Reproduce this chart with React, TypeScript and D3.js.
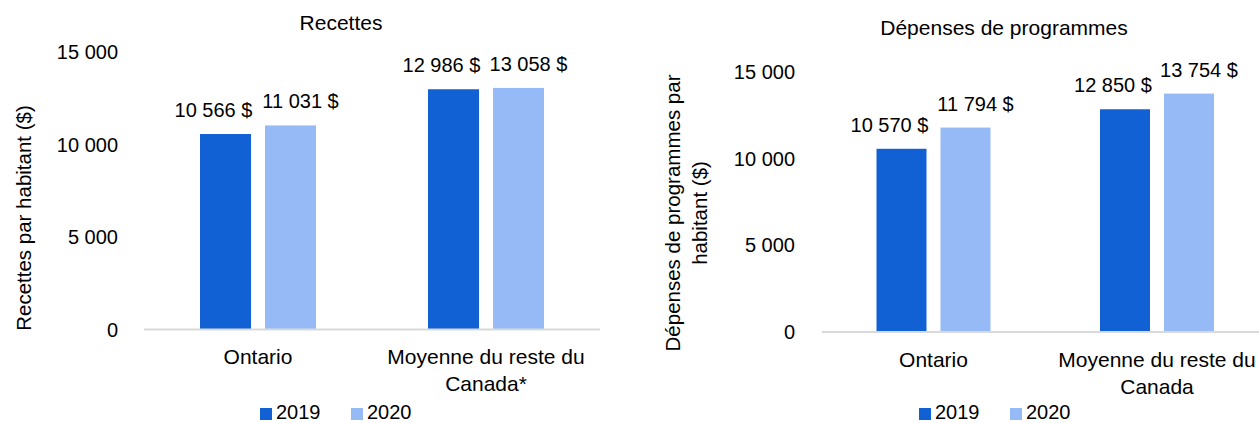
import React from "react";
import * as d3 from "d3";

const categoriesLeft = ["Ontario", "Moyenne du reste du|Canada*"];
const categoriesRight = ["Ontario", "Moyenne du reste du|Canada"];
const seriesNames = ["2019", "2020"];
const recettes2019 = [10566, 12986];
const recettes2020 = [11031, 13058];
const depenses2019 = [10570, 12850];
const depenses2020 = [11794, 13754];
const yTicks = [0, 5000, 10000, 15000];

const COLORS = ["#1160D4", "#95BAF5"];
const FONT = "'Liberation Sans', Arial, Helvetica, sans-serif";
const LABEL_DX = [-12, 10];

const fmt = (v: number) => d3.format(",")(v).replace(/,/g, " ");

type PanelProps = {
  title: string;
  titleX: number;
  titleY: number;
  yTitle: string[];
  yTitleX: number;
  yTitleY: number;
  categories: string[];
  s2019: number[];
  s2020: number[];
  xRange: [number, number];
  yRange: [number, number];
  tickX: number;
  barW: number;
  groupW: number;
  legendX: number;
};

function Panel(p: PanelProps) {
  const y = d3.scaleLinear().domain([0, 15000]).range(p.yRange);
  const x = d3.scaleBand<string>().domain(p.categories).range(p.xRange).padding(0);
  const gap = p.groupW - 2 * p.barW;
  const inner = d3
    .scaleBand<string>()
    .domain(seriesNames)
    .range([-p.groupW / 2, p.groupW / 2])
    .paddingInner(gap / (gap + p.barW))
    .paddingOuter(0);
  const series = [p.s2019, p.s2020];
  const base = y(0);
  return (
    <g>
      <text x={p.titleX} y={p.titleY} textAnchor="middle" fontSize={21} fill="#000">
        {p.title}
      </text>
      <text
        transform={`translate(${p.yTitleX},${p.yTitleY}) rotate(-90)`}
        textAnchor="middle"
        fontSize={20.5}
        fill="#000"
      >
        {p.yTitle.map((l, i) => (
          <tspan key={i} x={0} dy={i === 0 ? -(p.yTitle.length - 1) * 27 : 27}>
            {l}
          </tspan>
        ))}
      </text>
      {yTicks.map((t) => (
        <text key={t} x={p.tickX} y={y(t)} dy="0.35em" textAnchor="end" fontSize={20} fill="#000">
          {fmt(t)}
        </text>
      ))}
      {p.categories.map((c, ci) => {
        const cx = (x(c) as number) + x.bandwidth() / 2;
        return (
          <g key={c}>
            {series.map((s, si) => {
              const v = s[ci];
              const bx = cx + (inner(seriesNames[si]) as number);
              return (
                <g key={si}>
                  <rect x={bx} y={y(v)} width={inner.bandwidth()} height={base - y(v)} fill={COLORS[si]} />
                  <text
                    x={bx + inner.bandwidth() / 2 + LABEL_DX[si]}
                    y={y(v) - 17}
                    textAnchor="middle"
                    fontSize={20}
                    fill="#000"
                  >
                    {fmt(v) + " $"}
                  </text>
                </g>
              );
            })}
            <text x={cx} y={base + 34.5} textAnchor="middle" fontSize={21} fill="#000">
              {c.split("|").map((l, i) => (
                <tspan key={i} x={cx} dy={i === 0 ? 0 : 27}>
                  {l}
                </tspan>
              ))}
            </text>
          </g>
        );
      })}
      <line x1={p.xRange[0]} x2={p.xRange[1]} y1={base} y2={base} stroke="#D9D9D9" strokeWidth={2} />
      {seriesNames.map((n, i) => (
        <g key={n} transform={`translate(${p.legendX + i * 91},0)`}>
          <rect x={0} y={408} width={12} height={12} fill={COLORS[i]} />
          <text x={16} y={419} fontSize={20} fill="#000">
            {n}
          </text>
        </g>
      ))}
    </g>
  );
}

export default function App() {
  return (
    <svg
      width={1259}
      height={423}
      style={{ position: "absolute", left: 0, top: 0, background: "#fff" }}
      fontFamily={FONT}
    >
      <rect width={1259} height={423} fill="#fff" />
      <Panel
        title="Recettes"
        titleX={341}
        titleY={30}
        yTitle={["Recettes par habitant ($)"]}
        yTitleX={31}
        yTitleY={218}
        categories={categoriesLeft}
        s2019={recettes2019}
        s2020={recettes2020}
        xRange={[144, 600]}
        yRange={[329.5, 52]}
        tickX={118}
        barW={51}
        groupW={116}
        legendX={260}
      />
      <Panel
        title="Dépenses de programmes"
        titleX={1004}
        titleY={35}
        yTitle={["Dépenses de programmes par", "habitant ($)"]}
        yTitleX={707}
        yTitleY={213}
        categories={categoriesRight}
        s2019={depenses2019}
        s2020={depenses2020}
        xRange={[821.75, 1268.75]}
        yRange={[332, 72]}
        tickX={795}
        barW={50}
        groupW={114}
        legendX={919}
      />
    </svg>
  );
}
